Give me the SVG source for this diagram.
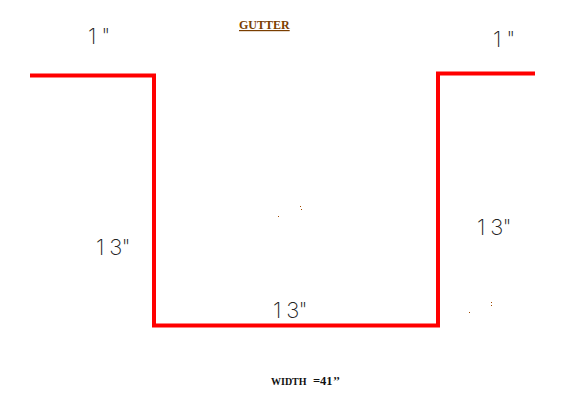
<svg xmlns="http://www.w3.org/2000/svg" width="570" height="416" viewBox="0 0 570 416">
<style>
.dim{font-family:"Inter","Liberation Sans",sans-serif;font-weight:200;font-size:22px;fill:#222;letter-spacing:-0.7px}
.ttl{font-family:"Liberation Serif",serif;font-weight:bold;white-space:pre}
.edge{fill:none;stroke:#ff0000;stroke-width:4}
.spk{fill:#a04a00}
</style>
<rect width="570" height="416" fill="#ffffff"/>
<g id="connectors">
<path class="edge" d="M30 75.500H154V325.500H438V73.500H535"/>
</g>
<g id="title"><text class="ttl" x="239" y="29" font-size="12" fill="#7a3e00" text-decoration="underline">GUTTER</text></g>
<g id="dim-left-top"><text class="dim" x="88" y="44">1 "</text></g>
<g id="dim-right-top"><text class="dim" x="493" y="47">1 "</text></g>
<g id="dim-left"><text class="dim" x="96" y="255">1 3"</text></g>
<g id="dim-bottom"><text class="dim" x="273" y="318">1 3"</text></g>
<g id="dim-right"><text class="dim" x="477" y="235">1 3"</text></g>
<g id="width"><text class="ttl" x="271" y="385" font-size="10" fill="#111"><tspan>WIDTH</tspan><tspan x="313" font-size="12.500">=41</tspan><tspan x="333" font-size="12">’’</tspan></text></g>
<g id="specks">
<rect class="spk" x="278" y="216" width="1" height="1"/><rect class="spk" x="300" y="206" width="1" height="1"/><rect class="spk" x="301" y="209" width="1" height="1"/>
<rect class="spk" x="491" y="302" width="1" height="1"/><rect class="spk" x="491" y="305" width="1" height="1"/><rect class="spk" x="469" y="312" width="1" height="1"/>
</g>
</svg>
